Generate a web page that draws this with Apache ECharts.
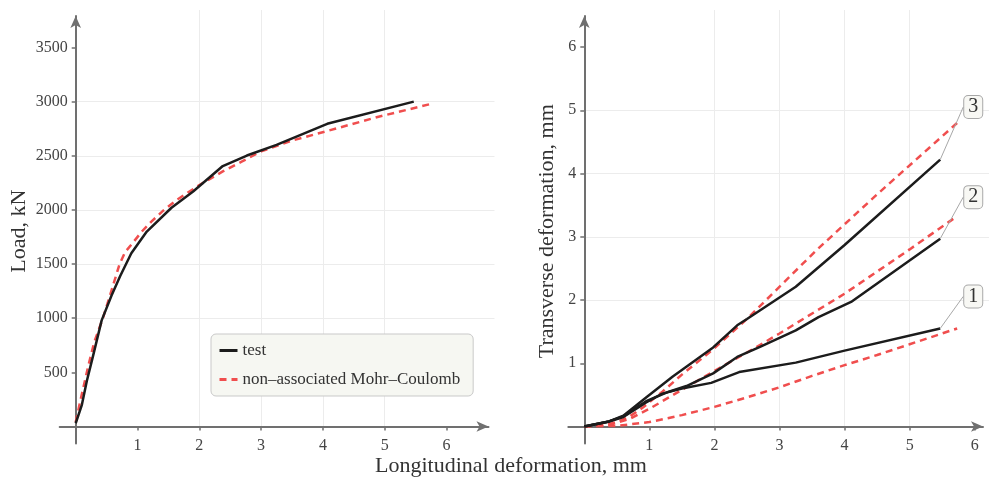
<!DOCTYPE html>
<html>
<head>
<meta charset="utf-8">
<script src="https://cdn.jsdelivr.net/npm/echarts@6/dist/echarts.min.js"></script>
<style>
  html, body { margin: 0; padding: 0; background: #fff; }
  #chart { width: 989px; height: 483px; }
</style>
</head>
<body>
<div id="chart"></div>
<script>
// Load (kN) against longitudinal deformation (mm)
const loadTest = [[0, 30], [0.1, 200], [0.18, 420], [0.28, 650], [0.42, 980], [0.58, 1210],
  [0.72, 1390], [0.9, 1600], [1.15, 1800], [1.55, 2020], [1.9, 2170], [2.38, 2405],
  [2.77, 2502], [3.25, 2600], [4.07, 2795], [5.47, 3000]];
const loadModel = [[0, 40], [0.08, 250], [0.2, 550], [0.3, 780], [0.44, 1000], [0.55, 1200],
  [0.71, 1500], [0.8, 1610], [0.93, 1700], [1.07, 1800], [1.22, 1890], [1.42, 1995],
  [1.63, 2090], [2.0, 2230], [2.38, 2355], [2.7, 2450], [3.0, 2540], [3.5, 2640],
  [4.08, 2730], [4.9, 2860], [5.76, 2980]];

// Transverse deformation (mm) against longitudinal deformation (mm), gauges 1-3
const transTest1 = [[0, 0], [0.38, 0.08], [0.6, 0.15], [0.95, 0.38], [1.2, 0.52], [1.5, 0.6],
  [1.95, 0.69], [2.38, 0.86], [3.25, 1.01], [4.0, 1.2], [5.47, 1.55]];
const transTest2 = [[0, 0], [0.38, 0.08], [0.6, 0.16], [0.95, 0.4], [1.3, 0.55], [1.57, 0.64],
  [1.98, 0.84], [2.35, 1.1], [2.7, 1.26], [3.25, 1.52], [3.6, 1.73], [4.1, 1.97], [5.47, 2.97]];
const transTest3 = [[0, 0], [0.38, 0.08], [0.6, 0.17], [0.95, 0.46], [1.36, 0.79], [1.98, 1.25],
  [2.35, 1.6], [2.5, 1.7], [3.25, 2.21], [4.0, 2.87], [5.47, 4.22]];
const transModel1 = [[0, 0], [0.5, 0.01], [1.0, 0.07], [1.5, 0.18], [2.0, 0.31], [2.5, 0.46],
  [3.0, 0.62], [3.5, 0.8], [4.0, 0.97], [4.5, 1.13], [5.0, 1.3], [5.73, 1.55]];
const transModel2 = [[0, 0], [0.4, 0.03], [0.7, 0.12], [1.0, 0.28], [1.5, 0.58], [2.0, 0.88],
  [2.5, 1.17], [3.0, 1.47], [4.0, 2.1], [5.0, 2.8], [5.68, 3.29]];
const transModel3 = [[0, 0], [0.3, 0.02], [0.5, 0.07], [0.7, 0.16], [0.9, 0.3], [1.2, 0.55],
  [1.5, 0.82], [1.98, 1.22], [2.5, 1.7], [3.56, 2.78], [4.5, 3.67], [5.73, 4.8]];

// Tick labels
const deformTicks = [1, 2, 3, 4, 5, 6];
const loadTicks = [500, 1000, 1500, 2000, 2500, 3000, 3500];
const transTicks = [1, 2, 3, 4, 5, 6];
const gaugeTags = ['1', '2', '3'];

const seriesNames = ['test', 'non\u2013associated Mohr\u2013Coulomb'];
const axisTitles = {
  load: 'Load, kN',
  trans: 'Transverse deformation, mm',
  longit: 'Longitudinal deformation, mm'
};

// ---- layout (pixels) ----
const FONT = 'Liberation Serif';
const AXIS_COLOR = '#707070';
const GRID_COLOR = '#ececec';
const TEST_COLOR = '#1c1c1c';
const MODEL_COLOR = '#f04e4e';

const panels = [
  { x0: 75.7, y0: 426.5, top: 10, right: 494.5, pxX: 61.8, pxY: 0.1083 },
  { x0: 584.3, y0: 426.5, top: 10, right: 989, pxX: 65.07, pxY: 63.25 }
];
const OVER_L = 16, OVER_B = 17, ARROW_PAD = 6;

const grids = [];
const xAxes = [];
const yAxes = [];

function plainNumber(v) { return String(v); }

function addPanel(p, yInterval, xTickVals, yTickVals, yName, yNameGap) {
  const gi = grids.length;
  const xMax = (p.right - p.x0) / p.pxX;
  const yMax = (p.y0 - p.top) / p.pxY;
  // data grid
  grids.push({ left: p.x0, top: p.top, width: p.right - p.x0, height: p.y0 - p.top, containLabel: false });
  xAxes.push({
    gridIndex: gi, type: 'value', min: 0, max: xMax, interval: 1,
    axisLine: { show: false },
    axisTick: { show: true, customValues: xTickVals, length: 4, lineStyle: { color: AXIS_COLOR, width: 1.5 } },
    axisLabel: { customValues: xTickVals, formatter: plainNumber, margin: 11, fontFamily: FONT, fontSize: 16, color: '#444' },
    splitLine: { show: true, showMinLine: false, showMaxLine: false, lineStyle: { color: GRID_COLOR, width: 1 } }
  });
  yAxes.push({
    gridIndex: gi, type: 'value', min: 0, max: yMax, interval: yInterval,
    name: yName, nameLocation: 'middle', nameGap: yNameGap,
    nameTextStyle: { fontFamily: FONT, fontSize: 22, color: '#333', padding: [0, 26, 0, 0] },
    axisLine: { show: false },
    axisTick: { show: true, customValues: yTickVals, length: 4, lineStyle: { color: AXIS_COLOR, width: 1.5 } },
    axisLabel: { customValues: yTickVals, formatter: plainNumber, margin: 8, fontFamily: FONT, fontSize: 16, color: '#444' },
    splitLine: { show: true, showMinLine: false, showMaxLine: false, lineStyle: { color: GRID_COLOR, width: 1 } }
  });
  // axis-line grid: crossing axes with a short overhang and arrow heads
  const oi = grids.length;
  const left = p.x0 - OVER_L;
  const right = p.right - ARROW_PAD;
  const top = p.top + ARROW_PAD;
  const bottom = p.y0 + OVER_B;
  grids.push({ left: left, top: top, width: right - left, height: bottom - top, containLabel: false });
  const arrowLine = {
    show: true, onZero: true, symbol: ['none', 'arrow'], symbolSize: [8, 12],
    lineStyle: { color: AXIS_COLOR, width: 2 }
  };
  xAxes.push({
    gridIndex: oi, type: 'value', min: -OVER_L / p.pxX, max: (right - p.x0) / p.pxX,
    axisLine: arrowLine, axisTick: { show: false }, axisLabel: { show: false }, splitLine: { show: false }
  });
  yAxes.push({
    gridIndex: oi, type: 'value', min: -OVER_B / p.pxY, max: (p.y0 - top) / p.pxY,
    axisLine: arrowLine, axisTick: { show: false }, axisLabel: { show: false }, splitLine: { show: false }
  });
  return gi;
}

addPanel(panels[0], 500, deformTicks, loadTicks, axisTitles.load, 45);
addPanel(panels[1], 1, deformTicks, transTicks, axisTitles.trans, 26);

function testLine(data, axisIdx) {
  return {
    name: seriesNames[0], type: 'line', xAxisIndex: axisIdx, yAxisIndex: axisIdx, data: data,
    symbol: 'none', lineStyle: { color: TEST_COLOR, width: 2.5 }, itemStyle: { color: TEST_COLOR },
    z: 3
  };
}
function modelLine(data, axisIdx) {
  return {
    name: seriesNames[1], type: 'line', xAxisIndex: axisIdx, yAxisIndex: axisIdx, data: data,
    symbol: 'none',
    lineStyle: { color: MODEL_COLOR, width: 2.5, type: [7, 5] }, itemStyle: { color: MODEL_COLOR },
    z: 2
  };
}

// gauge tag offsets from the end of each test curve
const tagOffsets = [[19, -32], [19, -41.5], [19, -52.5]];

function taggedTestLine(data, axisIdx, k) {
  const s = testLine(data.map(function (pt, i, arr) {
    if (i !== arr.length - 1) return pt;
    return { value: pt, label: { show: true, formatter: gaugeTags[k] } };
  }), axisIdx);
  s.symbol = 'circle';
  s.symbolSize = 0;
  s.showSymbol = true;
  s.label = {
    show: false, position: 'right', distance: 5,
    fontFamily: FONT, fontSize: 20, color: '#333', lineHeight: 20,
    backgroundColor: '#f8f8f4', borderColor: '#a8a8a8', borderWidth: 1, borderRadius: 4,
    padding: [2, 4, 0, 4]
  };
  s.labelLine = { show: true, lineStyle: { color: '#a8a8a8', width: 1 } };
  s.labelLayout = { dx: tagOffsets[k][0], dy: tagOffsets[k][1] };
  return s;
}

const L = 0, R = 2; // axis indices of the two data grids

const option = {
  animation: false,
  backgroundColor: '#ffffff',
  title: {
    text: axisTitles.longit, left: 511, top: 455, textAlign: 'center', padding: 0,
    textStyle: { fontFamily: FONT, fontSize: 22, fontWeight: 'normal', color: '#333' }
  },
  legend: {
    orient: 'vertical', left: 211, top: 334,
    data: seriesNames,
    itemWidth: 18, itemHeight: 12, itemGap: 12, itemTextGap: 10,
    padding: [8, 13, 8, 7],
    backgroundColor: '#f6f7f2', borderColor: '#c9c9c9', borderWidth: 1, borderRadius: 5,
    itemStyle: { color: 'rgba(0,0,0,0)', borderWidth: 0, opacity: 0 },
    lineStyle: { width: 3 },
    textStyle: { fontFamily: FONT, fontSize: 17, color: '#333', lineHeight: 17 }
  },
  grid: grids,
  xAxis: xAxes,
  yAxis: yAxes,
  series: [
    testLine(loadTest, L),
    modelLine(loadModel, L),
    modelLine(transModel1, R),
    modelLine(transModel2, R),
    modelLine(transModel3, R),
    taggedTestLine(transTest1, R, 0),
    taggedTestLine(transTest2, R, 1),
    taggedTestLine(transTest3, R, 2)
  ]
};

const chart = echarts.init(document.getElementById('chart'), null, { renderer: 'canvas' });
chart.setOption(option);
</script>
</body>
</html>
